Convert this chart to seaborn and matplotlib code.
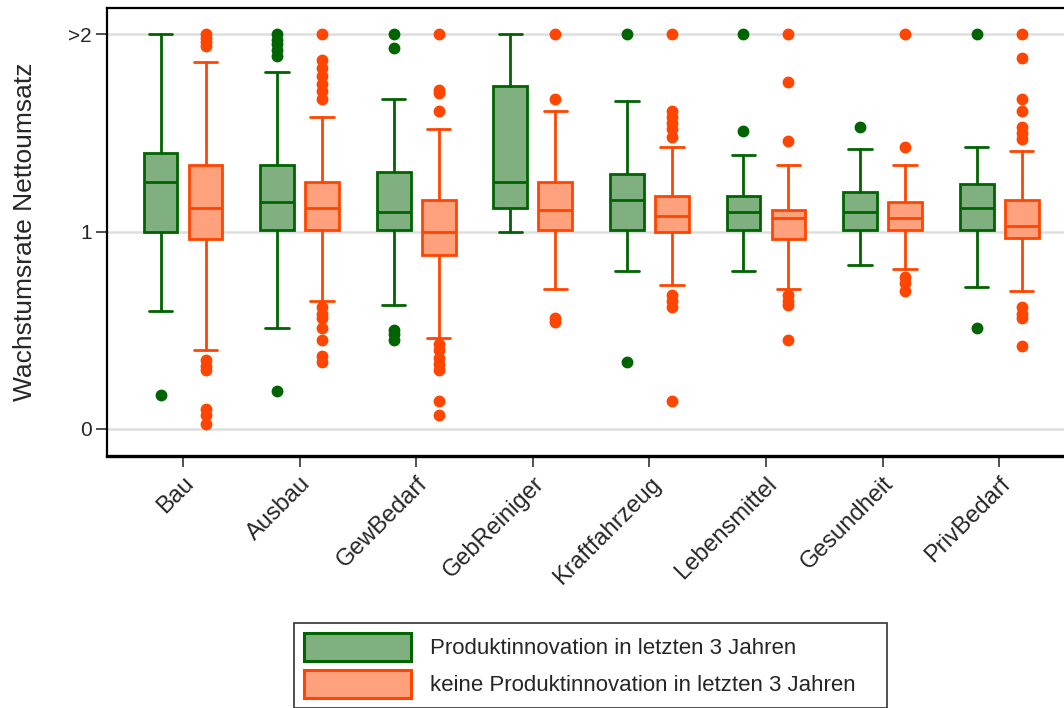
import matplotlib
matplotlib.use("Agg")
import matplotlib.pyplot as plt
from matplotlib.patches import Patch
import seaborn as sns

# Branchen
categories = ["Bau", "Ausbau", "GewBedarf", "GebReiniger", "Kraftfahrzeug",
              "Lebensmittel", "Gesundheit", "PrivBedarf"]
groups = ["Produktinnovation in letzten 3 Jahren",
          "keine Produktinnovation in letzten 3 Jahren"]

# Box-Statistiken, Gruppe mit Produktinnovation
inno_whislo = [0.60, 0.51, 0.63, 1.00, 0.80, 0.80, 0.83, 0.72]
inno_q1 = [1.00, 1.01, 1.01, 1.12, 1.01, 1.01, 1.01, 1.01]
inno_med = [1.25, 1.15, 1.10, 1.25, 1.16, 1.10, 1.10, 1.12]
inno_q3 = [1.40, 1.34, 1.30, 1.74, 1.29, 1.18, 1.20, 1.24]
inno_whishi = [2.00, 1.81, 1.67, 2.00, 1.66, 1.39, 1.42, 1.43]
inno_fliers = [
    [0.17],
    [2.0, 1.97, 1.95, 1.92, 1.89, 0.19],
    [2.0, 1.93, 0.50, 0.48, 0.45],
    [],
    [2.0, 0.34],
    [2.0, 1.51],
    [1.53],
    [2.0, 0.51],
]

# Gruppe ohne Produktinnovation
keine_whislo = [0.40, 0.65, 0.46, 0.71, 0.73, 0.71, 0.81, 0.70]
keine_q1 = [0.96, 1.01, 0.88, 1.01, 1.00, 0.96, 1.01, 0.97]
keine_med = [1.12, 1.12, 1.00, 1.11, 1.08, 1.07, 1.07, 1.03]
keine_q3 = [1.34, 1.25, 1.16, 1.25, 1.18, 1.11, 1.15, 1.16]
keine_whishi = [1.86, 1.58, 1.52, 1.61, 1.43, 1.34, 1.34, 1.41]
keine_fliers = [
    [2.0, 1.98, 1.96, 1.94, 0.35, 0.32, 0.30, 0.10, 0.07, 0.025],
    [2.0, 1.87, 1.83, 1.79, 1.75, 1.71, 1.67, 0.62, 0.58, 0.56, 0.51, 0.45, 0.37, 0.34],
    [2.0, 1.72, 1.70, 1.61, 0.43, 0.40, 0.36, 0.33, 0.30, 0.14, 0.07],
    [2.0, 1.67, 0.56, 0.54],
    [2.0, 1.61, 1.58, 1.55, 1.52, 1.48, 0.68, 0.65, 0.62, 0.14],
    [2.0, 1.76, 1.46, 0.68, 0.65, 0.63, 0.45],
    [2.0, 1.43, 0.77, 0.74, 0.70],
    [2.0, 1.88, 1.67, 1.61, 1.53, 1.50, 1.47, 0.62, 0.58, 0.56, 0.42],
]

ytick_vals = [0, 1, 2]
ytick_labels = ["0", "1", ">2"]

edge_colors = ["#006400", "#ff4500"]
fill_colors = ["#80b07f", "#ffa17c"]

sns.set_style("white")
plt.rcParams["font.family"] = ["Liberation Sans", "DejaVu Sans"]

fig = plt.figure(figsize=(10.64, 7.08), dpi=100)
ax = fig.add_axes([107 / 1064, 1 - 456 / 708, 1 - 107 / 1064, 448 / 708])

for yv in ytick_vals:
    ax.axhline(yv, color="#dedede", lw=1.8, zorder=0)


def make_stats(lo, q1, med, q3, hi, fl):
    return [dict(whislo=a, q1=b, med=c, q3=d, whishi=e, fliers=f)
            for a, b, c, d, e, f in zip(lo, q1, med, q3, hi, fl)]


series = [
    make_stats(inno_whislo, inno_q1, inno_med, inno_q3, inno_whishi, inno_fliers),
    make_stats(keine_whislo, keine_q1, keine_med, keine_q3, keine_whishi, keine_fliers),
]
offsets = [-0.193, 0.193]

for stats, off, ec, fc in zip(series, offsets, edge_colors, fill_colors):
    pos = [i + off for i in range(len(categories))]
    ax.bxp(stats, positions=pos, widths=0.29, capwidths=0.2, patch_artist=True,
           boxprops=dict(facecolor=fc, edgecolor=ec, linewidth=2.0),
           medianprops=dict(color=ec, linewidth=2.0),
           whiskerprops=dict(color=ec, linewidth=2.0),
           capprops=dict(color=ec, linewidth=2.0),
           flierprops=dict(marker="o", markerfacecolor=ec, markeredgecolor=ec,
                           markersize=7.5),
           manage_ticks=False, zorder=3)

ax.set_xlim(-0.652, 7.556)
ax.set_ylim(-0.137, 2.133)
ax.set_xticks(range(len(categories)))
ax.set_xticklabels(categories, rotation=45, ha="right", rotation_mode="anchor",
                   fontsize=17)
ax.set_yticks(ytick_vals)
ax.set_yticklabels(ytick_labels, fontsize=15)
ax.tick_params(axis="both", which="major", length=8, width=1.2, color="#333333",
               direction="out", bottom=True, left=True)
ax.tick_params(axis="x", pad=4)
ax.tick_params(axis="y", pad=3)

ax.set_ylabel("Wachstumsrate Nettoumsatz", fontsize=19)
ax.yaxis.set_label_coords(-0.073, 0.5)

for side in ["left", "top", "bottom"]:
    ax.spines[side].set_color("black")
    ax.spines[side].set_linewidth(1.6)
ax.spines["bottom"].set_linewidth(2.4)
ax.spines["right"].set_visible(False)

handles = [Patch(facecolor=fc, edgecolor=ec, linewidth=2.2)
           for fc, ec in zip(fill_colors, edge_colors)]
leg = fig.legend(handles, groups, loc="upper left",
                 bbox_to_anchor=(294 / 1064, 0, 593 / 1064, 1 - 623 / 708),
                 mode="expand",
                 fontsize=16, frameon=True, fancybox=False, edgecolor="black",
                 handlelength=4.8, handleheight=1.55, handletextpad=0.85,
                 borderpad=0.45, labelspacing=0.4, borderaxespad=0)
leg.get_frame().set_linewidth(1.2)

fig.savefig("out.png", dpi=100)
